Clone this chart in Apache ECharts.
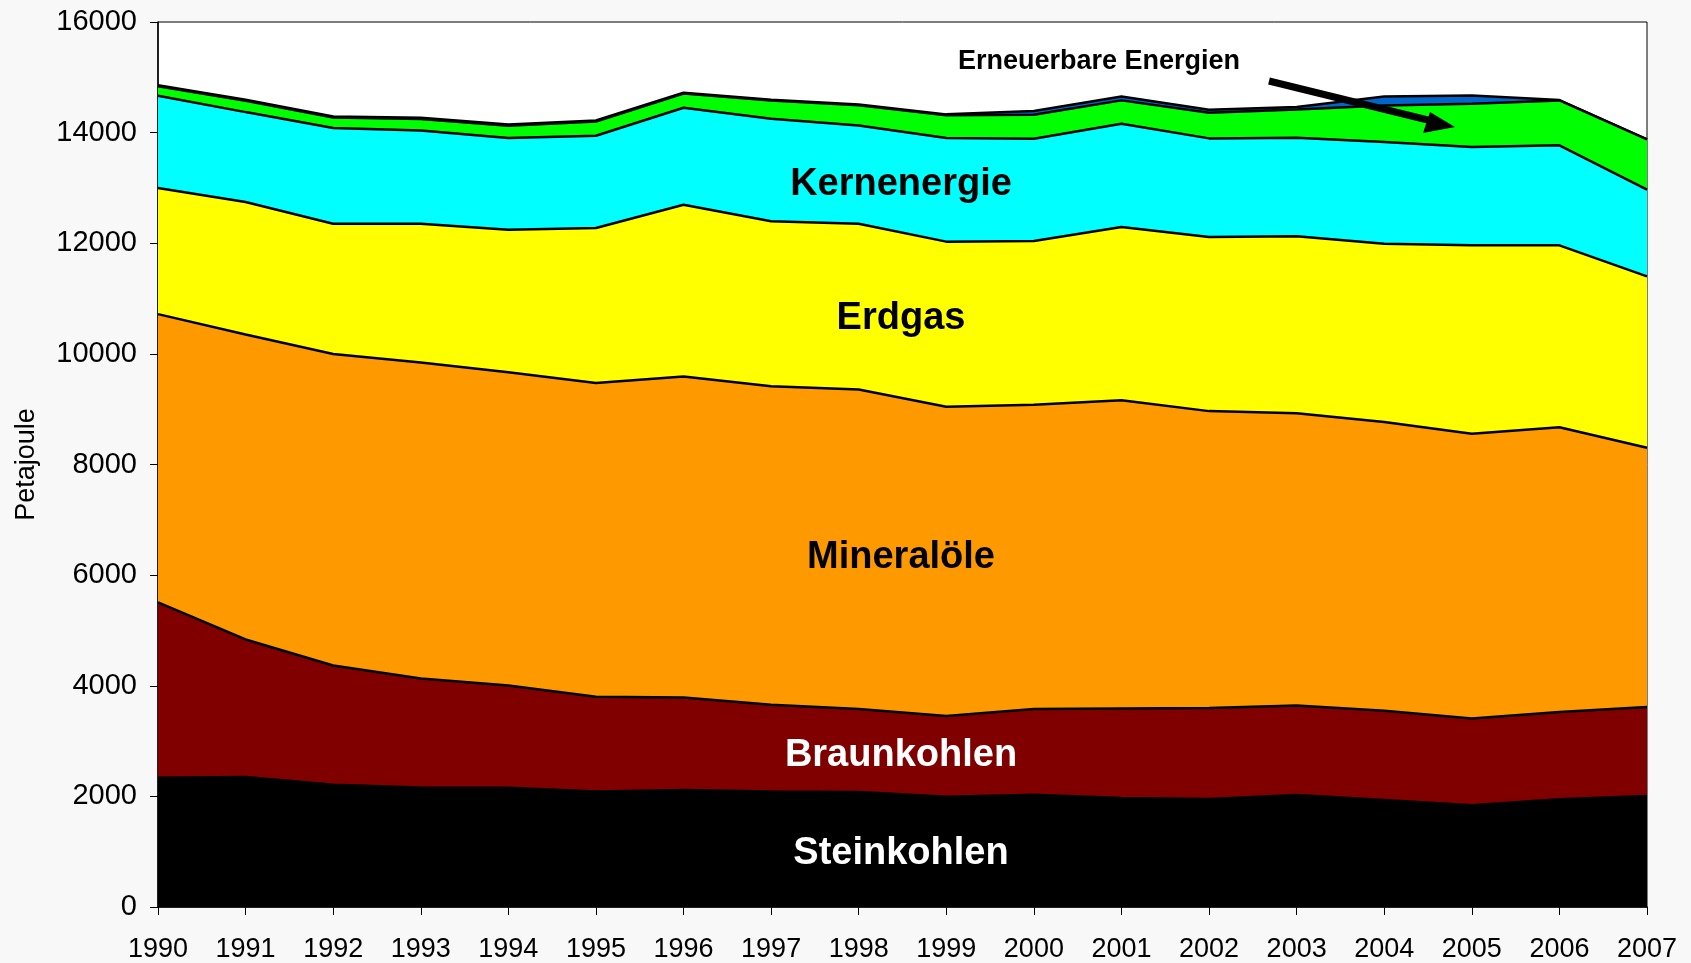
<!DOCTYPE html>
<html>
<head>
<meta charset="utf-8">
<script src="https://cdn.jsdelivr.net/npm/echarts@6/dist/echarts.min.js"></script>
<style>
html,body{margin:0;padding:0;background:#f8f8f8;}
#c{width:1691px;height:963px;}
</style>
</head>
<body>
<div id="c"></div>
<script>
var years = ['1990','1991','1992','1993','1994','1995','1996','1997','1998','1999','2000','2001','2002','2003','2004','2005','2006','2007'];
var steinkohlen = [2337,2349,2210,2162,2156,2090,2114,2090,2078,1993,2030,1970,1952,2024,1933,1838,1946,2006];
var braunkohlen = [3169,2488,2157,1970,1850,1711,1675,1566,1500,1458,1548,1620,1644,1621,1614,1571,1578,1608];
var mineraloele = [5213,5512,5631,5710,5661,5671,5800,5757,5777,5592,5504,5570,5369,5281,5223,5147,5149,4688];
var erdgas = [2279,2396,2356,2512,2578,2803,3108,2983,2999,2986,2959,3134,3148,3199,3223,3406,3289,3098];
var kernenergie = [1669,1626,1728,1686,1656,1669,1753,1855,1776,1872,1849,1868,1783,1783,1836,1777,1808,1569];
var erneuerbare = [172,204,191,205,223,257,256,329,365,414,434,421,463,512,663,783,813,909];
var sonstige = [20,20,20,25,25,20,15,15,15,15,66,72,55,42,163,151,5,0];
var yTicks = [0,2000,4000,6000,8000,10000,12000,14000,16000];

var seriesDefs = [
  {name:'Steinkohlen', data:steinkohlen, color:'#000000'},
  {name:'Braunkohlen', data:braunkohlen, color:'#800000'},
  {name:'Mineralöle', data:mineraloele, color:'#FF9900'},
  {name:'Erdgas', data:erdgas, color:'#FFFF00'},
  {name:'Kernenergie', data:kernenergie, color:'#00FFFF'},
  {name:'Erneuerbare Energien', data:erneuerbare, color:'#00FF00'},
  {name:'Sonstige', data:sonstige, color:'#0066CC'}
];

var chart = echarts.init(document.getElementById('c'));
var font = '"Liberation Sans", Arial, sans-serif';
var series = seriesDefs.map(function(s, i){
  return {
    name: s.name, type:'line', stack:'total', data:s.data,
    symbol:'none', smooth:false, z: 20 - i,
    lineStyle:{color:'#000', width:2.5},
    areaStyle:{color:s.color, opacity:1},
    itemStyle:{color:s.color}
  };
});

function lbl(text, x, y, size, color){
  return {type:'text', x:x, y:y, z:200,
    style:{text:text, fill:color, font:'bold '+size+'px '+font, textAlign:'center', textVerticalAlign:'middle'}};
}

chart.setOption({
  backgroundColor:'#f8f8f8',
  animation:false,
  grid:{left:158, right:44, top:22, bottom:56, show:true, backgroundColor:'#ffffff', borderColor:'#000', borderWidth:1},
  xAxis:{type:'category', data:years, boundaryGap:false,
    axisLine:{lineStyle:{color:'#000', width:1.5}},
    axisTick:{show:true, length:8, lineStyle:{color:'#000'}},
    axisLabel:{color:'#000', fontSize:27, fontFamily:font, margin:29, interval:0},
    splitLine:{show:false}},
  yAxis:{type:'value', min:yTicks[0], max:yTicks[yTicks.length-1], interval:2000,
    name:'Petajoule', nameLocation:'middle', nameGap:118,
    nameTextStyle:{color:'#000', fontSize:27, fontFamily:font},
    axisLine:{show:true, lineStyle:{color:'#000', width:1.5}},
    axisTick:{show:true, length:8, lineStyle:{color:'#000'}},
    axisLabel:{color:'#000', fontSize:29, fontFamily:font, margin:21, formatter:function(v){return String(v);}},
    splitLine:{show:false}},
  series: series,
  graphic:[
    lbl('Kernenergie', 901, 185, 38, '#000'),
    lbl('Erdgas', 901, 319, 38, '#000'),
    lbl('Mineralöle', 901, 558, 38, '#000'),
    lbl('Braunkohlen', 901, 756, 38, '#fff'),
    lbl('Steinkohlen', 901, 854, 38, '#fff'),
    lbl('Erneuerbare Energien', 1099, 62, 27, '#000'),
    {type:'line', z:200, shape:{x1:1269, y1:81, x2:1436, y2:122}, style:{stroke:'#000', lineWidth:7}},
    {type:'polygon', z:200, shape:{points:[[1455,127],[1430,112],[1423,133]]}, style:{fill:'#000'}}
  ]
});
</script>
</body>
</html>
